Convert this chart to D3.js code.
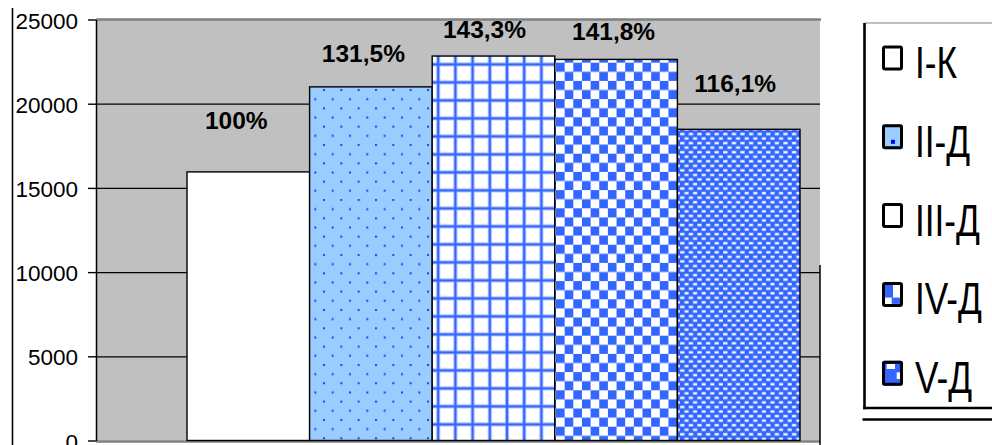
<!DOCTYPE html>
<html>
<head>
<meta charset="utf-8">
<script src="https://cdn.jsdelivr.net/npm/d3@7"></script>
<style>
  html, body { margin: 0; padding: 0; background: #fff; overflow: hidden; }
  svg { display: block; }
</style>
</head>
<body>
<svg id="chart" width="992" height="445"></svg>
<script>
// ---------------- data ----------------
const categories = ["I-К", "II-Д", "III-Д", "IV-Д", "V-Д"];
const values = [15950, 21000, 22830, 22630, 18480];
const percentLabels = ["100%", "131,5%", "143,3%", "141,8%", "116,1%"];
const yTicks = [0, 5000, 10000, 15000, 20000, 25000];
const yMax = 25000;

// ---------------- layout ----------------
const W = 992, H = 445;
const plot = { left: 96, right: 820, top: 19.5, bottom: 440.5 };
const barsRange = [187, 800];
// label nudges (px) relative to bar centre / bar top
const labelDx = [-12, -7.5, -9, -2.5, -3.5];
const labelDy = [43, 25, 18, 19, 37.5];

const BLUE = "#3366ff", PALE = "#99ccff", GREY = "#c0c0c0", DARKGREY = "#808080";

const svg = d3.select("#chart");
const defs = svg.append("defs");

// ---------- fill patterns ----------
// II-Д : pale blue with small blue dots
const p2 = defs.append("pattern").attr("id", "p2").attr("patternUnits", "userSpaceOnUse")
  .attr("x", 323).attr("y", 89).attr("width", 17.33).attr("height", 18.33);
p2.append("rect").attr("width", 17.33).attr("height", 18.33).attr("fill", PALE);
[[0, 0], [8.67, 9.17]].forEach(([x, y]) => {
  p2.append("rect").attr("x", x).attr("y", y).attr("width", 2).attr("height", 2).attr("fill", "#2a3cff");
});

// III-Д : white with blue large grid
const gw = 17.2, gh = 18.0;
const p3 = defs.append("pattern").attr("id", "p3").attr("patternUnits", "userSpaceOnUse")
  .attr("x", 435.3).attr("y", 61.5).attr("width", gw).attr("height", gh);
p3.append("rect").attr("width", gw).attr("height", gh).attr("fill", "#fff");
p3.append("rect").attr("x", 0.8).attr("y", 0).attr("width", 4.2).attr("height", gh).attr("fill", "#b3c6ff");
p3.append("rect").attr("x", 0).attr("y", 0.8).attr("width", gw).attr("height", 4.2).attr("fill", "#b3c6ff");
p3.append("rect").attr("x", 1.8).attr("y", 0).attr("width", 2.2).attr("height", gh).attr("fill", BLUE);
p3.append("rect").attr("x", 0).attr("y", 1.8).attr("width", gw).attr("height", 2.2).attr("fill", BLUE);

// IV-Д : large checker board
const cw = 17.3, ch = 18.2;
const p4 = defs.append("pattern").attr("id", "p4").attr("patternUnits", "userSpaceOnUse")
  .attr("x", 556).attr("y", 62.7).attr("width", cw).attr("height", ch);
p4.append("rect").attr("width", cw).attr("height", ch).attr("fill", "#fff");
p4.append("rect").attr("x", 0).attr("y", 0).attr("width", cw / 2).attr("height", ch / 2).attr("fill", BLUE);
p4.append("rect").attr("x", cw / 2).attr("y", ch / 2).attr("width", cw / 2).attr("height", ch / 2).attr("fill", BLUE);

// V-Д : blue with small white dashes
const dw = 8.6, dh = 9.1;
const p5 = defs.append("pattern").attr("id", "p5").attr("patternUnits", "userSpaceOnUse")
  .attr("x", 680).attr("y", 132).attr("width", dw).attr("height", dh);
p5.append("rect").attr("width", dw).attr("height", dh).attr("fill", BLUE);
[[0.6, 1.2], [0.6 + dw / 2, 1.2 + dh / 2]].forEach(([x, y]) => {
  p5.append("rect").attr("x", x - 0.6).attr("y", y - 0.6).attr("width", 4.6).attr("height", 2.8).attr("fill", "#a9bfff");
  p5.append("rect").attr("x", x).attr("y", y).attr("width", 3.4).attr("height", 1.6).attr("fill", "#ffffff");
});

const fills = ["#ffffff", "url(#p2)", "url(#p3)", "url(#p4)", "url(#p5)"];

// ---------------- scales ----------------
const y = d3.scaleLinear().domain([0, yMax]).range([plot.bottom, plot.top]);
const x = d3.scaleBand().domain(categories).range(barsRange).padding(0);

// outer frame line on the left
svg.append("line").attr("x1", 12.5).attr("x2", 12.5).attr("y1", 8).attr("y2", H)
  .attr("stroke", "#000").attr("stroke-width", 1.6);

// plot background
svg.append("rect").attr("x", plot.left).attr("y", plot.top)
  .attr("width", plot.right - plot.left).attr("height", plot.bottom - plot.top).attr("fill", GREY);

// gridlines
const grid = svg.append("g").attr("transform", `translate(${plot.left},0)`)
  .call(d3.axisLeft(y).tickValues(yTicks.filter(v => v > 0 && v < yMax))
    .tickSize(-(plot.right - plot.left)).tickFormat(""));
grid.select(".domain").remove();
grid.selectAll("line").attr("stroke", "#000").attr("stroke-width", 1.2);

// top border of plot
svg.append("line").attr("x1", plot.left).attr("x2", plot.right + 1).attr("y1", plot.top).attr("y2", plot.top)
  .attr("stroke", DARKGREY).attr("stroke-width", 2.3);
// bottom (category) axis line
svg.append("line").attr("x1", plot.left).attr("x2", plot.right).attr("y1", plot.bottom + 1).attr("y2", plot.bottom + 1)
  .attr("stroke", DARKGREY).attr("stroke-width", 2.4);

// bars
svg.append("g").selectAll("rect").data(values).join("rect")
  .attr("x", (d, i) => x(categories[i]))
  .attr("y", d => y(d))
  .attr("width", x.bandwidth())
  .attr("height", d => y(0) - y(d))
  .attr("fill", (d, i) => fills[i])
  .attr("stroke", "#000").attr("stroke-width", 1.4);

// y axis
const yAxis = svg.append("g").attr("transform", `translate(${plot.left},0)`)
  .call(d3.axisLeft(y).tickValues(yTicks).tickSize(8).tickSizeOuter(0).tickPadding(10).tickFormat(d3.format("d")));
yAxis.select(".domain").attr("stroke", "#000").attr("stroke-width", 1.5);
yAxis.selectAll(".tick line").attr("stroke", "#000").attr("stroke-width", 1.4);
yAxis.selectAll(".tick text").attr("fill", "#000")
  .attr("font-family", "'Liberation Sans', Arial, sans-serif").attr("font-size", 22.5).attr("dy", "0.38em");

// data labels
svg.append("g").selectAll("text").data(values).join("text")
  .attr("x", (d, i) => x(categories[i]) + x.bandwidth() / 2 + labelDx[i])
  .attr("y", (d, i) => y(d) - labelDy[i])
  .attr("text-anchor", "middle")
  .attr("font-family", "'Liberation Sans', Arial, sans-serif")
  .attr("font-weight", "bold").attr("font-size", 24.5).attr("fill", "#000")
  .text((d, i) => percentLabels[i]);

// vertical frame piece at right of plot
svg.append("line").attr("x1", 820).attr("x2", 820).attr("y1", 265).attr("y2", H)
  .attr("stroke", "#000").attr("stroke-width", 1.5);

// ---------------- legend ----------------
const leg = { left: 864.5, top: 23, bottom: 408, right: 1000 };
svg.append("rect").attr("x", leg.left).attr("y", leg.top).attr("width", leg.right - leg.left)
  .attr("height", leg.bottom - leg.top).attr("fill", "#fff");
svg.append("line").attr("x1", leg.left).attr("x2", leg.right).attr("y1", leg.top).attr("y2", leg.top)
  .attr("stroke", DARKGREY).attr("stroke-width", 1);
svg.append("line").attr("x1", leg.left).attr("x2", leg.left).attr("y1", leg.top).attr("y2", leg.bottom + 1.2)
  .attr("stroke", "#000").attr("stroke-width", 2.6);
svg.append("line").attr("x1", leg.left - 1.3).attr("x2", leg.right).attr("y1", leg.bottom).attr("y2", leg.bottom)
  .attr("stroke", "#000").attr("stroke-width", 2.6);
svg.append("line").attr("x1", 862.5).attr("x2", leg.right).attr("y1", 419.5).attr("y2", 419.5)
  .attr("stroke", "#000").attr("stroke-width", 2.6);

const swatchBg = ["#ffffff", PALE, "#ffffff", "#ffffff", BLUE];
const swatchMarks = [
  [],
  [{ x: 9, y: 15.5, w: 4, h: 4, c: "#0000ff" }],
  [],
  [{ x: 3, y: 3, w: 8, h: 12.7, c: BLUE }, { x: 9.7, y: 15.7, w: 8.3, h: 6.3, c: BLUE }],
  [{ x: 4.7, y: 3.3, w: 8.3, h: 5, c: "#ffffff" }, { x: 14.7, y: 11.7, w: 3.8, h: 6.6, c: "#ffffff" }]
];
const entryStep = 78.8, capTop0 = 46.5;
const items = svg.append("g").selectAll("g").data(categories).join("g")
  .attr("transform", (d, i) => `translate(882,${capTop0 - 1 + i * entryStep})`);
items.append("rect").attr("width", 21).attr("height", 25).attr("rx", 2)
  .attr("fill", (d, i) => swatchBg[i]);
items.each(function (d, i) {
  d3.select(this).selectAll("rect.m").data(swatchMarks[i]).join("rect").attr("class", "m")
    .attr("x", m => m.x).attr("y", m => m.y).attr("width", m => m.w).attr("height", m => m.h).attr("fill", m => m.c);
});
items.append("rect").attr("x", 1.5).attr("y", 1.5).attr("width", 18).attr("height", 22).attr("rx", 1.5)
  .attr("fill", "none").attr("stroke", "#000").attr("stroke-width", 3);
items.append("text")
  .attr("transform", "translate(33,32.5) scale(0.8,1)")
  .attr("font-family", "'Liberation Sans', Arial, sans-serif").attr("font-size", 44).attr("fill", "#000")
  .text(d => d);
</script>
</body>
</html>
